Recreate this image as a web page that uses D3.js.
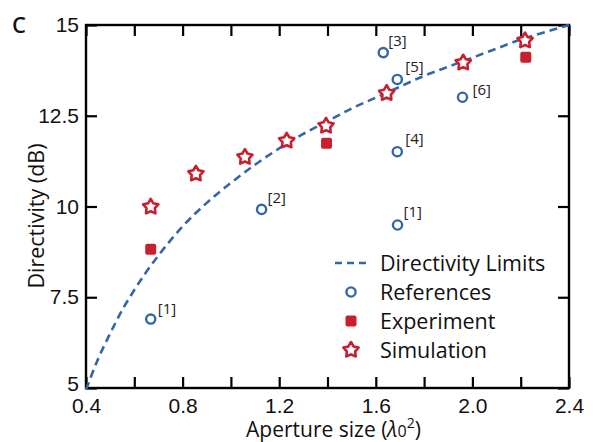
<!DOCTYPE html>
<html>
<head>
<meta charset="utf-8">
<style>
  body { margin: 0; background: #fff; }
  svg { display: block; font-family: "Open Sans", sans-serif; }
  .axis path { display: none; }
  .axis line { stroke: #000; stroke-width: 2.2; }
  .axis text { font-size: 21px; fill: #111; }
</style>
</head>
<body>
<script src="https://cdn.jsdelivr.net/npm/d3@7"></script>
<script>

// directivity limit curve
var limitX = [0.40, 0.42, 0.45, 0.50, 0.55, 0.60, 0.65, 0.70, 0.80, 0.90, 1.00, 1.10, 1.20, 1.30, 1.40, 1.50, 1.60, 1.70, 1.80, 1.90, 2.00, 2.10, 2.20, 2.30, 2.40];
var limitY = [4.95, 5.3, 5.8, 6.5, 7.15, 7.7, 8.2, 8.65, 9.45, 10.1, 10.65, 11.15, 11.6, 12.0, 12.35, 12.7, 13.0, 13.3, 13.6, 13.85, 14.1, 14.35, 14.6, 14.8, 15.0];

// references
var refX = [0.668, 1.127, 1.631, 1.689, 1.689, 1.959, 1.69];
var refY = [6.90, 9.92, 14.24, 13.50, 11.51, 13.01, 9.49];
var refLabels = ["[1]", "[2]", "[3]", "[5]", "[4]", "[6]", "[1]"];

// experiment
var expX = [0.668, 1.396, 2.221];
var expY = [8.82, 11.74, 14.11];

// simulation
var simX = [0.668, 0.855, 1.058, 1.231, 1.394, 1.645, 1.962, 2.218];
var simY = [9.99, 10.9, 11.36, 11.81, 12.22, 13.12, 13.96, 14.57];

var xTickValues = [0.4, 0.6, 0.8, 1.0, 1.2, 1.4, 1.6, 1.8, 2.0, 2.2, 2.4];
var xTickLabels = ["0.4", "0.8", "1.2", "1.6", "2.0", "2.4"];
var yTickValues = [5, 7.5, 10, 12.5, 15];
var yTickLabels = ["5", "7.5", "10", "12.5", "15"];

var legendNames = ["Directivity Limits", "References", "Experiment", "Simulation"];

var blue = "#3268a3", red = "#c8202e";

var W = 596, H = 442;
var margin = {top: 25, right: 27, bottom: 54, left: 86};
var width = W - margin.left - margin.right,
    height = H - margin.top - margin.bottom;

var svg = d3.select("body").append("svg")
    .attr("width", W)
    .attr("height", H);

var g = svg.append("g")
    .attr("transform", "translate(" + margin.left + "," + margin.top + ")");

var x = d3.scaleLinear().domain([0.4, 2.4]).range([0, width]);
var y = d3.scaleLinear().domain([5, 15]).range([height, 0]);

function xFmt(d) {
  var s = d3.format(".1f")(d);
  return xTickLabels.indexOf(s) >= 0 ? s : "";
}
function yFmt(d) {
  var i = yTickValues.indexOf(d);
  return i >= 0 ? yTickLabels[i] : "";
}

// axes, ticks pointing inward
g.append("g").attr("class", "axis")
  .attr("transform", "translate(0," + height + ")")
  .call(d3.axisBottom(x).tickValues(xTickValues).tickSizeInner(-11).tickSizeOuter(0).tickPadding(10).tickFormat(xFmt));
g.append("g").attr("class", "axis")
  .call(d3.axisTop(x).tickValues(xTickValues).tickSizeInner(-11).tickSizeOuter(0).tickFormat(""));
g.append("g").attr("class", "axis")
  .call(d3.axisLeft(y).tickValues(yTickValues).tickSizeInner(-11).tickSizeOuter(0).tickPadding(7).tickFormat(yFmt));
g.append("g").attr("class", "axis")
  .attr("transform", "translate(" + width + ",0)")
  .call(d3.axisRight(y).tickValues(yTickValues).tickSizeInner(-11).tickSizeOuter(0).tickFormat(""));

// nudge the bottom-most y label up a little, as in the source
g.selectAll(".axis text").filter(function(d) { return d === 5; }).attr("dy", "0.1em");

// frame
g.append("rect")
  .attr("width", width).attr("height", height)
  .attr("fill", "none").attr("stroke", "#000").attr("stroke-width", 2.4);

// limits curve
var limitData = limitX.map(function(v, i) { return [v, limitY[i]]; });
var line = d3.line()
  .x(function(d) { return x(d[0]); })
  .y(function(d) { return y(d[1]); })
  .curve(d3.curveMonotoneX);

g.append("path")
  .datum(limitData)
  .attr("d", line)
  .attr("fill", "none")
  .attr("stroke", blue)
  .attr("stroke-width", 2.6)
  .attr("stroke-dasharray", "8,5");

// star outline path
function starPath(R) {
  var pts = [];
  for (var k = 0; k < 10; k++) {
    var r = k % 2 === 0 ? R : R * 0.55;
    var a = -Math.PI / 2 + k * Math.PI / 5;
    pts.push([r * Math.cos(a), r * Math.sin(a)]);
  }
  return "M" + pts.join("L") + "Z";
}

// experiment squares
var expData = expX.map(function(v, i) { return {x: v, y: expY[i]}; });
g.selectAll(".exp").data(expData).enter().append("rect")
  .attr("class", "exp")
  .attr("x", function(d) { return x(d.x) - 5.5; })
  .attr("y", function(d) { return y(d.y) - 5.5; })
  .attr("width", 11).attr("height", 11)
  .attr("rx", 2)
  .attr("fill", red);

// simulation stars
var simData = simX.map(function(v, i) { return {x: v, y: simY[i]}; });
g.selectAll(".sim").data(simData).enter().append("path")
  .attr("class", "sim")
  .attr("transform", function(d) { return "translate(" + x(d.x) + "," + y(d.y) + ")"; })
  .attr("d", starPath(8))
  .attr("fill", "#fff")
  .attr("stroke", red)
  .attr("stroke-width", 2.6)
  .attr("stroke-linejoin", "round");

// references
var refData = refX.map(function(v, i) { return {x: v, y: refY[i], label: refLabels[i]}; });
g.selectAll(".ref").data(refData).enter().append("circle")
  .attr("class", "ref")
  .attr("cx", function(d) { return x(d.x); })
  .attr("cy", function(d) { return y(d.y); })
  .attr("r", 4.6)
  .attr("fill", "#fff")
  .attr("stroke", blue)
  .attr("stroke-width", 2.4);

// label offsets in px, same order as refLabels
var labelDx = [7, 6, 5, 8, 8, 10, 6];
var labelDy = [-5, -6, -7, -7, -8, -2, -8];
g.selectAll(".reflab").data(refData).enter().append("text")
  .attr("class", "reflab")
  .attr("x", function(d, i) { return x(d.x) + labelDx[i]; })
  .attr("y", function(d, i) { return y(d.y) + labelDy[i]; })
  .attr("font-size", 15)
  .attr("fill", "#222")
  .text(function(d) { return d.label; });

// legend
var leg = svg.append("g").attr("transform", "translate(351,263)");
var rowH = 29;
leg.append("line")
  .attr("x1", -16).attr("x2", 17).attr("y1", 0).attr("y2", 0)
  .attr("stroke", blue).attr("stroke-width", 2.6).attr("stroke-dasharray", "7,5");
leg.append("circle")
  .attr("cx", 0).attr("cy", rowH).attr("r", 4.6)
  .attr("fill", "#fff").attr("stroke", blue).attr("stroke-width", 2.4);
leg.append("rect")
  .attr("x", -5.5).attr("y", rowH * 2 - 5.5).attr("width", 11).attr("height", 11).attr("rx", 2)
  .attr("fill", red);
leg.append("path")
  .attr("transform", "translate(0," + rowH * 3 + ")")
  .attr("d", starPath(8))
  .attr("fill", "#fff").attr("stroke", red).attr("stroke-width", 2.6).attr("stroke-linejoin", "round");
leg.selectAll(".legtext").data(legendNames).enter().append("text")
  .attr("class", "legtext")
  .attr("x", 29)
  .attr("y", function(d, i) { return i * rowH; })
  .attr("dy", "0.35em")
  .attr("font-size", 21.5)
  .attr("fill", "#111")
  .text(function(d) { return d; });

// axis titles
var xt = svg.append("text")
  .attr("x", margin.left + width / 2 + 6)
  .attr("y", 437)
  .attr("text-anchor", "middle")
  .attr("font-size", 21)
  .attr("fill", "#111");
xt.append("tspan").text("Aperture size (");
xt.append("tspan").attr("font-style", "italic").text("λ");
xt.append("tspan").attr("font-size", 16).text("0");
xt.append("tspan").attr("font-size", 14).attr("dy", -9).text("2");
xt.append("tspan").attr("dy", 9).text(")");

svg.append("text")
  .attr("transform", "translate(44,216) rotate(-90)")
  .attr("text-anchor", "middle")
  .attr("font-size", 21.5)
  .attr("fill", "#111")
  .text("Directivity (dB)");

// panel letter
svg.append("text")
  .attr("x", 12).attr("y", 33)
  .attr("font-size", 22)
  .attr("font-weight", 600)
  .attr("fill", "#111")
  .text("C");

</script>
</body>
</html>
